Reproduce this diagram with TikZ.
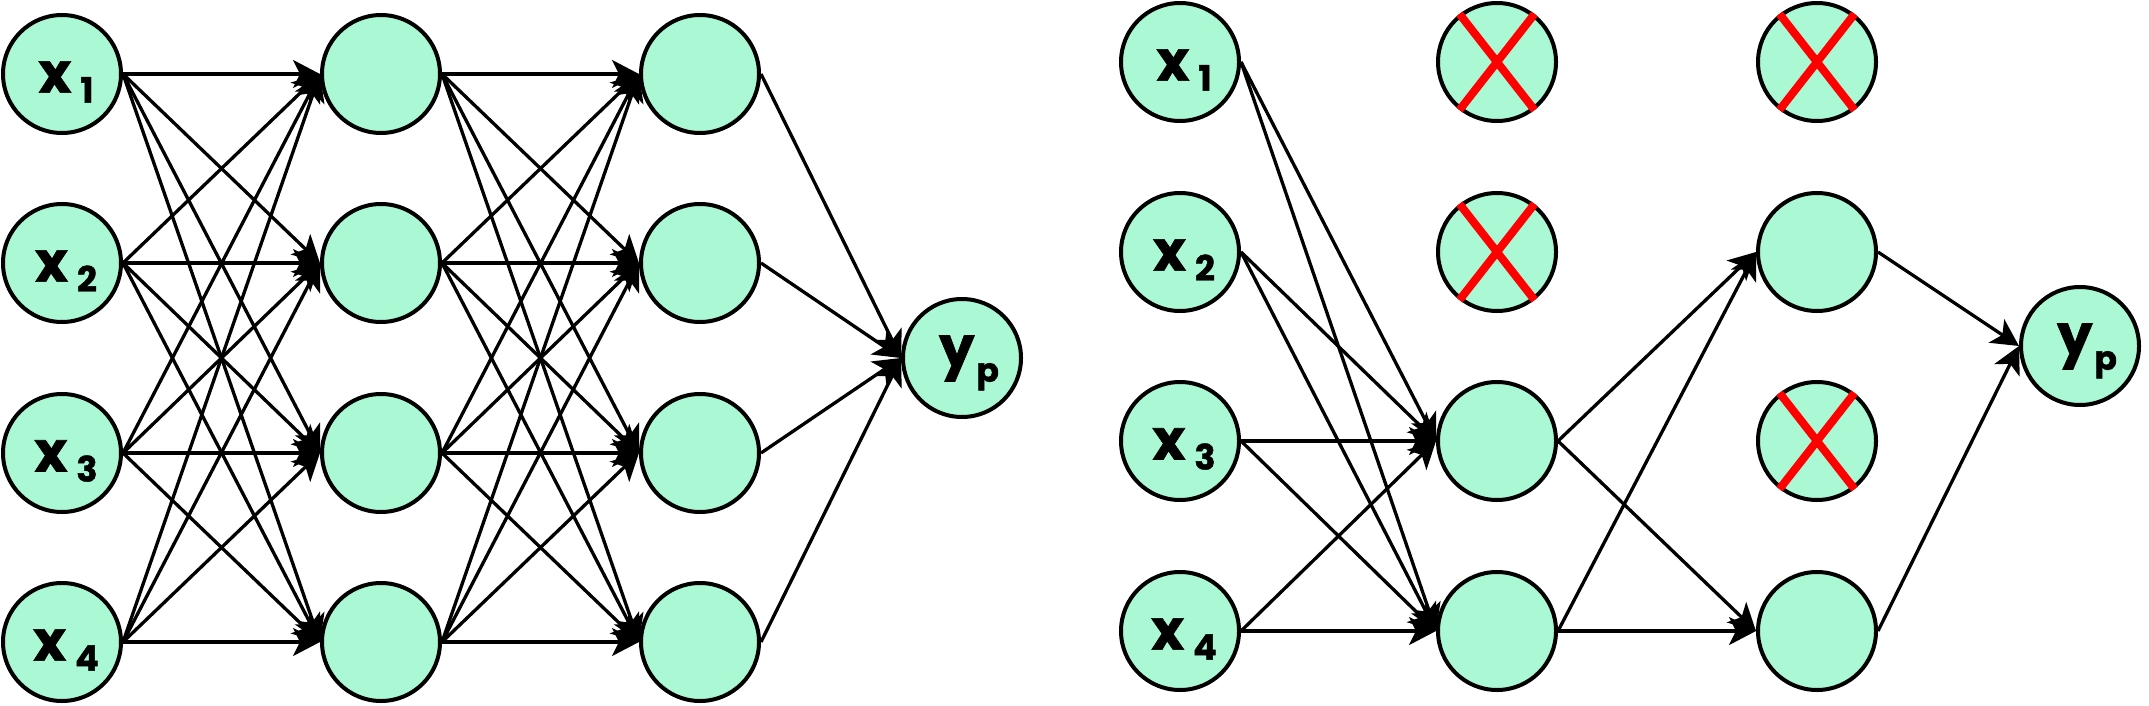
\documentclass[tikz,border=0pt]{standalone}
\usepackage{fontspec}
\setmainfont{Poppins}[BoldFeatures={FakeBold=1.2}]
\usetikzlibrary{arrows.meta}
\definecolor{mint}{HTML}{AAF8D4}
\newcommand{\xlab}[1]{{\fontsize{56}{56}\selectfont\bfseries x}\kern9pt\raisebox{-10pt}{\fontsize{35}{35}\selectfont\bfseries #1}}
\newcommand{\ylab}{{\fontsize{56}{56}\selectfont\bfseries y}\kern2pt\raisebox{-15pt}{\fontsize{33}{33}\selectfont\bfseries p}}
\begin{document}
\begin{tikzpicture}[x=1pt,y=-1pt,
  neuron/.style={circle,draw=black,fill=mint,line width=4pt,minimum size=118pt,inner sep=0pt},
  lab/.style={inner sep=0pt},
  conn/.style={line width=3.3pt,-{Stealth[length=27pt,width=28pt,inset=7pt]}},
  cross/.style={red,line width=8pt}]
\useasboundingbox (0,0) rectangle (2149,706);
% ---------- left network ----------
\foreach \i/\y in {1/74,2/263,3/453,4/642}{
  \node[neuron] (A\i) at (62,\y) {};
  \node[neuron] (B\i) at (381,\y) {};
  \node[neuron] (C\i) at (700,\y) {};
}
\node[neuron] (YL) at (962,358) {};
\foreach \i in {1,...,4}{
  \node[lab] (tA\i) at ([shift={(4,8)}]A\i) {\xlab{\i}};
}
\node[lab] (tYL) at ([shift={(7,5)}]YL) {\ylab};
\foreach \i in {1,...,4}{
  \foreach \j in {1,...,4}{
    \draw[conn] (A\i.east) -- (B\j.west);
    \draw[conn] (B\i.east) -- (C\j.west);
  }
  \draw[conn] (C\i.east) -- (YL.west);
}
% ---------- right network ----------
\foreach \i/\y in {1/62,2/252,3/441,4/631}{
  \node[neuron] (P\i) at (1180,\y) {};
  \node[neuron] (Q\i) at (1497,\y) {};
  \node[neuron] (R\i) at (1817,\y) {};
}
\node[neuron] (YR) at (2080,346) {};
\foreach \i in {1,...,4}{
  \node[lab] (tP\i) at ([shift={(4,8)}]P\i) {\xlab{\i}};
}
\node[lab] (tYR) at ([shift={(7,5)}]YR) {\ylab};
\foreach \n in {Q1,Q2,R1,R3}{
  \draw[cross] (\n.128) -- (\n.-52);
  \draw[cross] (\n.52) -- (\n.-128);
}
\foreach \i in {1,...,4}{
  \draw[conn] (P\i.east) -- (Q3.west);
  \draw[conn] (P\i.east) -- (Q4.west);
}
\foreach \i in {3,4}{
  \draw[conn] (Q\i.east) -- (R2.west);
  \draw[conn] (Q\i.east) -- (R4.west);
}
\draw[conn] (R2.east) -- (YR.west);
\draw[conn] (R4.east) -- (YR.west);
\end{tikzpicture}
\end{document}
